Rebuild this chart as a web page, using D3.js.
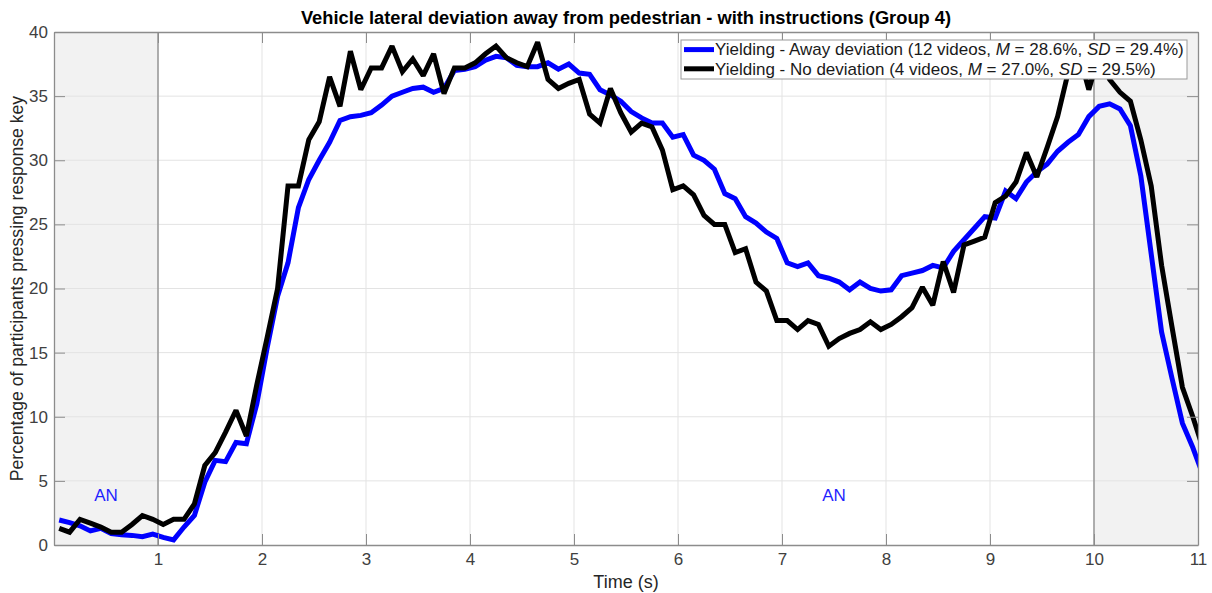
<!DOCTYPE html>
<html>
<head>
<meta charset="utf-8">
<script src="https://cdn.jsdelivr.net/npm/d3@7"></script>
<style>
    body { margin: 0; background: #fff; }
    svg { font-family: "Liberation Sans", Arial, sans-serif; }
    .axis path, .axis line { stroke: #8c8c8c; }
    .axis text { fill: #404040; font-size: 17px; }
</style>
</head>
<body>
<svg class="chart"></svg>
<script>
// time samples every 0.1 s, starting at 0.05 s
var t0 = 0.05, dt = 0.1;

var awayDeviation = [
    1.95, 1.75, 1.5, 1.1, 1.3, 0.9, 0.8, 0.75, 0.65, 0.85,
    0.6, 0.4, 1.4, 2.3, 4.9, 6.6, 6.5, 8.0, 7.9, 11.0,
    15.4, 19.4, 22.0, 26.3, 28.5, 30.0, 31.4, 33.1, 33.4, 33.5,
    33.7, 34.3, 35.0, 35.3, 35.6, 35.7, 35.3, 35.6, 37.0, 37.1,
    37.3, 37.8, 38.1, 38.0, 37.4, 37.3, 37.3, 37.6, 37.1, 37.5,
    36.8, 36.7, 35.5, 35.1, 34.6, 33.8, 33.3, 32.9, 32.9, 31.8,
    32.0, 30.4, 30.0, 29.3, 27.4, 27.0, 25.6, 25.1, 24.4, 23.9,
    22.0, 21.7, 22.0, 21.0, 20.8, 20.5, 19.9, 20.5, 20.0, 19.8,
    19.9, 21.0, 21.2, 21.4, 21.8, 21.6, 22.9, 23.8, 24.7, 25.6,
    25.5, 27.6, 27.0, 28.3, 29.1, 29.7, 30.7, 31.4, 32.0, 33.4,
    34.2, 34.4, 34.0, 32.7, 28.8, 22.7, 16.6, 13.0, 9.5, 7.6,
    5.4
];

var noDeviation = [
    1.3, 1.0, 2.0, 1.7, 1.4, 1.0, 1.0, 1.6, 2.3, 2.0,
    1.6, 2.0, 2.0, 3.2, 6.2, 7.2, 8.8, 10.5, 8.5, 12.5,
    16.2, 20.0, 28.0, 28.0, 31.6, 33.0, 36.5, 34.2, 38.5, 35.5,
    37.2, 37.2, 38.9, 36.9, 37.9, 36.6, 38.3, 35.2, 37.2, 37.2,
    37.6, 38.3, 38.9, 38.0, 37.6, 37.3, 39.2, 36.3, 35.6, 36.0,
    36.3, 33.6, 32.9, 35.6, 33.7, 32.2, 32.9, 32.6, 30.8, 27.7,
    28.0, 27.3, 25.7, 25.0, 25.0, 22.8, 23.1, 20.5, 19.8, 17.5,
    17.5, 16.8, 17.5, 17.2, 15.5, 16.1, 16.5, 16.8, 17.4, 16.8,
    17.2, 17.8, 18.5, 20.1, 18.7, 22.1, 19.7, 23.4, 23.7, 24.0,
    26.7, 27.2, 28.3, 30.6, 28.7, 31.0, 33.4, 36.8, 38.5, 35.5,
    38.3, 36.3, 35.3, 34.6, 31.6, 28.0, 21.8, 17.0, 12.3, 10.0,
    7.5
];

var seriesNames = [
    ["Yielding - Away deviation (12 videos, ", "M", " = 28.6%, ", "SD", " = 29.4%)"],
    ["Yielding - No deviation (4 videos, ", "M", " = 27.0%, ", "SD", " = 29.5%)"]
];
var seriesColors = ["#0000ff", "#000000"];

var xTicks = [1, 2, 3, 4, 5, 6, 7, 8, 9, 10, 11];
var yTicks = [0, 5, 10, 15, 20, 25, 30, 35, 40];
var shadedSpans = [[0, 1], [10, 11]];
var annotations = [{x: 0.5, y: 3.9, label: "AN"}, {x: 7.5, y: 3.9, label: "AN"}];

var titleText = "Vehicle lateral deviation away from pedestrian - with instructions (Group 4)";
var xLabel = "Time (s)";
var yLabel = "Percentage of participants pressing response key";

function renderChart() {
    var margin = {top: 32, right: 14, bottom: 48, left: 54},
        width = 1212 - margin.left - margin.right,
        height = 593 - margin.top - margin.bottom;

    var svg = d3.select(".chart")
        .attr("width", width + margin.left + margin.right)
        .attr("height", height + margin.top + margin.bottom);

    var g = svg.append("g")
        .attr("transform", "translate(" + margin.left + "," + margin.top + ")");

    var x = d3.scaleLinear().domain([0, 11]).range([0, width]);
    var y = d3.scaleLinear().domain([0, 40]).range([height, 0]);

    svg.append("defs").append("clipPath")
        .attr("id", "plot-clip")
        .append("rect")
        .attr("width", width)
        .attr("height", height);

    // grey shaded spans
    g.selectAll("rect.span")
        .data(shadedSpans)
        .enter()
        .append("rect")
        .attr("class", "span")
        .attr("x", function(d) { return x(d[0]); })
        .attr("y", 0)
        .attr("width", function(d) { return x(d[1]) - x(d[0]); })
        .attr("height", height)
        .attr("fill", "#f2f2f2");

    // grid
    g.selectAll("line.xgrid")
        .data(xTicks.slice(0, -1))
        .enter()
        .append("line")
        .attr("class", "xgrid")
        .attr("x1", function(d) { return x(d); })
        .attr("x2", function(d) { return x(d); })
        .attr("y1", 0)
        .attr("y2", height)
        .attr("stroke", "#e3e3e3")
        .attr("stroke-width", 1);

    g.selectAll("line.ygrid")
        .data(yTicks.slice(1, -1))
        .enter()
        .append("line")
        .attr("class", "ygrid")
        .attr("x1", 0)
        .attr("x2", width)
        .attr("y1", function(d) { return y(d); })
        .attr("y2", function(d) { return y(d); })
        .attr("stroke", "#e3e3e3")
        .attr("stroke-width", 1);

    // span borders
    g.selectAll("line.spanEdge")
        .data([shadedSpans[0][1], shadedSpans[1][0]])
        .enter()
        .append("line")
        .attr("class", "spanEdge")
        .attr("x1", function(d) { return x(d); })
        .attr("x2", function(d) { return x(d); })
        .attr("y1", 0)
        .attr("y2", height)
        .attr("stroke", "#8a8a8a")
        .attr("stroke-width", 1.3);

    var line = d3.line()
        .x(function(d, i) { return x(t0 + i * dt); })
        .y(function(d) { return y(d); });

    g.append("g")
        .attr("clip-path", "url(#plot-clip)")
        .selectAll("path.series")
        .data([awayDeviation, noDeviation])
        .enter()
        .append("path")
        .attr("class", "series")
        .attr("d", line)
        .attr("fill", "none")
        .attr("stroke", function(d, i) { return seriesColors[i]; })
        .attr("stroke-width", 5)
        .attr("stroke-linejoin", "miter")
        .attr("stroke-miterlimit", 2);

    g.selectAll("text.an")
        .data(annotations)
        .enter()
        .append("text")
        .attr("class", "an")
        .attr("x", function(d) { return x(d.x); })
        .attr("y", function(d) { return y(d.y); })
        .attr("dy", "0.35em")
        .attr("text-anchor", "middle")
        .attr("fill", "#1f1fff")
        .style("font-size", "17px")
        .text(function(d) { return d.label; });

    // axes, MATLAB style with inward ticks on all four sides
    var tickLen = 11;
    g.append("g")
        .attr("class", "x axis")
        .attr("transform", "translate(0," + height + ")")
        .call(d3.axisBottom(x).tickValues(xTicks).tickSizeInner(-tickLen).tickSizeOuter(0).tickPadding(8));
    g.append("g")
        .attr("class", "x axis top")
        .call(d3.axisTop(x).tickValues(xTicks).tickSizeInner(-tickLen).tickSizeOuter(0).tickFormat(""));
    g.append("g")
        .attr("class", "y axis")
        .call(d3.axisLeft(y).tickValues(yTicks).tickSizeInner(-tickLen).tickSizeOuter(0).tickPadding(6));
    g.append("g")
        .attr("class", "y axis right")
        .attr("transform", "translate(" + width + ",0)")
        .call(d3.axisRight(y).tickValues(yTicks).tickSizeInner(-tickLen).tickSizeOuter(0).tickFormat(""));
    g.selectAll(".axis path").attr("stroke-width", 1.3);

    // titles
    svg.append("text")
        .attr("x", margin.left + width / 2)
        .attr("y", 24)
        .attr("text-anchor", "middle")
        .attr("fill", "#000")
        .style("font-size", "18.3px")
        .style("font-weight", "bold")
        .text(titleText);

    svg.append("text")
        .attr("x", margin.left + width / 2)
        .attr("y", 588)
        .attr("text-anchor", "middle")
        .attr("fill", "#262626")
        .style("font-size", "18px")
        .text(xLabel);

    svg.append("text")
        .attr("transform", "translate(23," + (margin.top + height / 2) + ") rotate(-90)")
        .attr("text-anchor", "middle")
        .attr("fill", "#262626")
        .style("font-size", "17.6px")
        .text(yLabel);

    // legend
    var legend = svg.append("g")
        .attr("class", "legend")
        .attr("transform", "translate(681,40)");

    legend.append("rect")
        .attr("width", 506)
        .attr("height", 39)
        .attr("fill", "#fff")
        .attr("stroke", "#9a9a9a")
        .attr("stroke-width", 1);

    var rows = legend.selectAll("g.row")
        .data(seriesNames)
        .enter()
        .append("g")
        .attr("class", "row")
        .attr("transform", function(d, i) { return "translate(0," + (9.6 + i * 19.2) + ")"; });

    rows.append("line")
        .attr("x1", 3)
        .attr("x2", 33)
        .attr("stroke", function(d, i) { return seriesColors[i]; })
        .attr("stroke-width", 5);

    rows.append("text")
        .attr("x", 34)
        .attr("y", 5.8)
        .attr("fill", "#1a1a1a")
        .style("font-size", "17px")
        .selectAll("tspan")
        .data(function(d) { return d; })
        .enter()
        .append("tspan")
        .style("font-style", function(d, i) { return i % 2 === 1 ? "italic" : "normal"; })
        .text(function(d) { return d; });
}

renderChart();
</script>
</body>
</html>
